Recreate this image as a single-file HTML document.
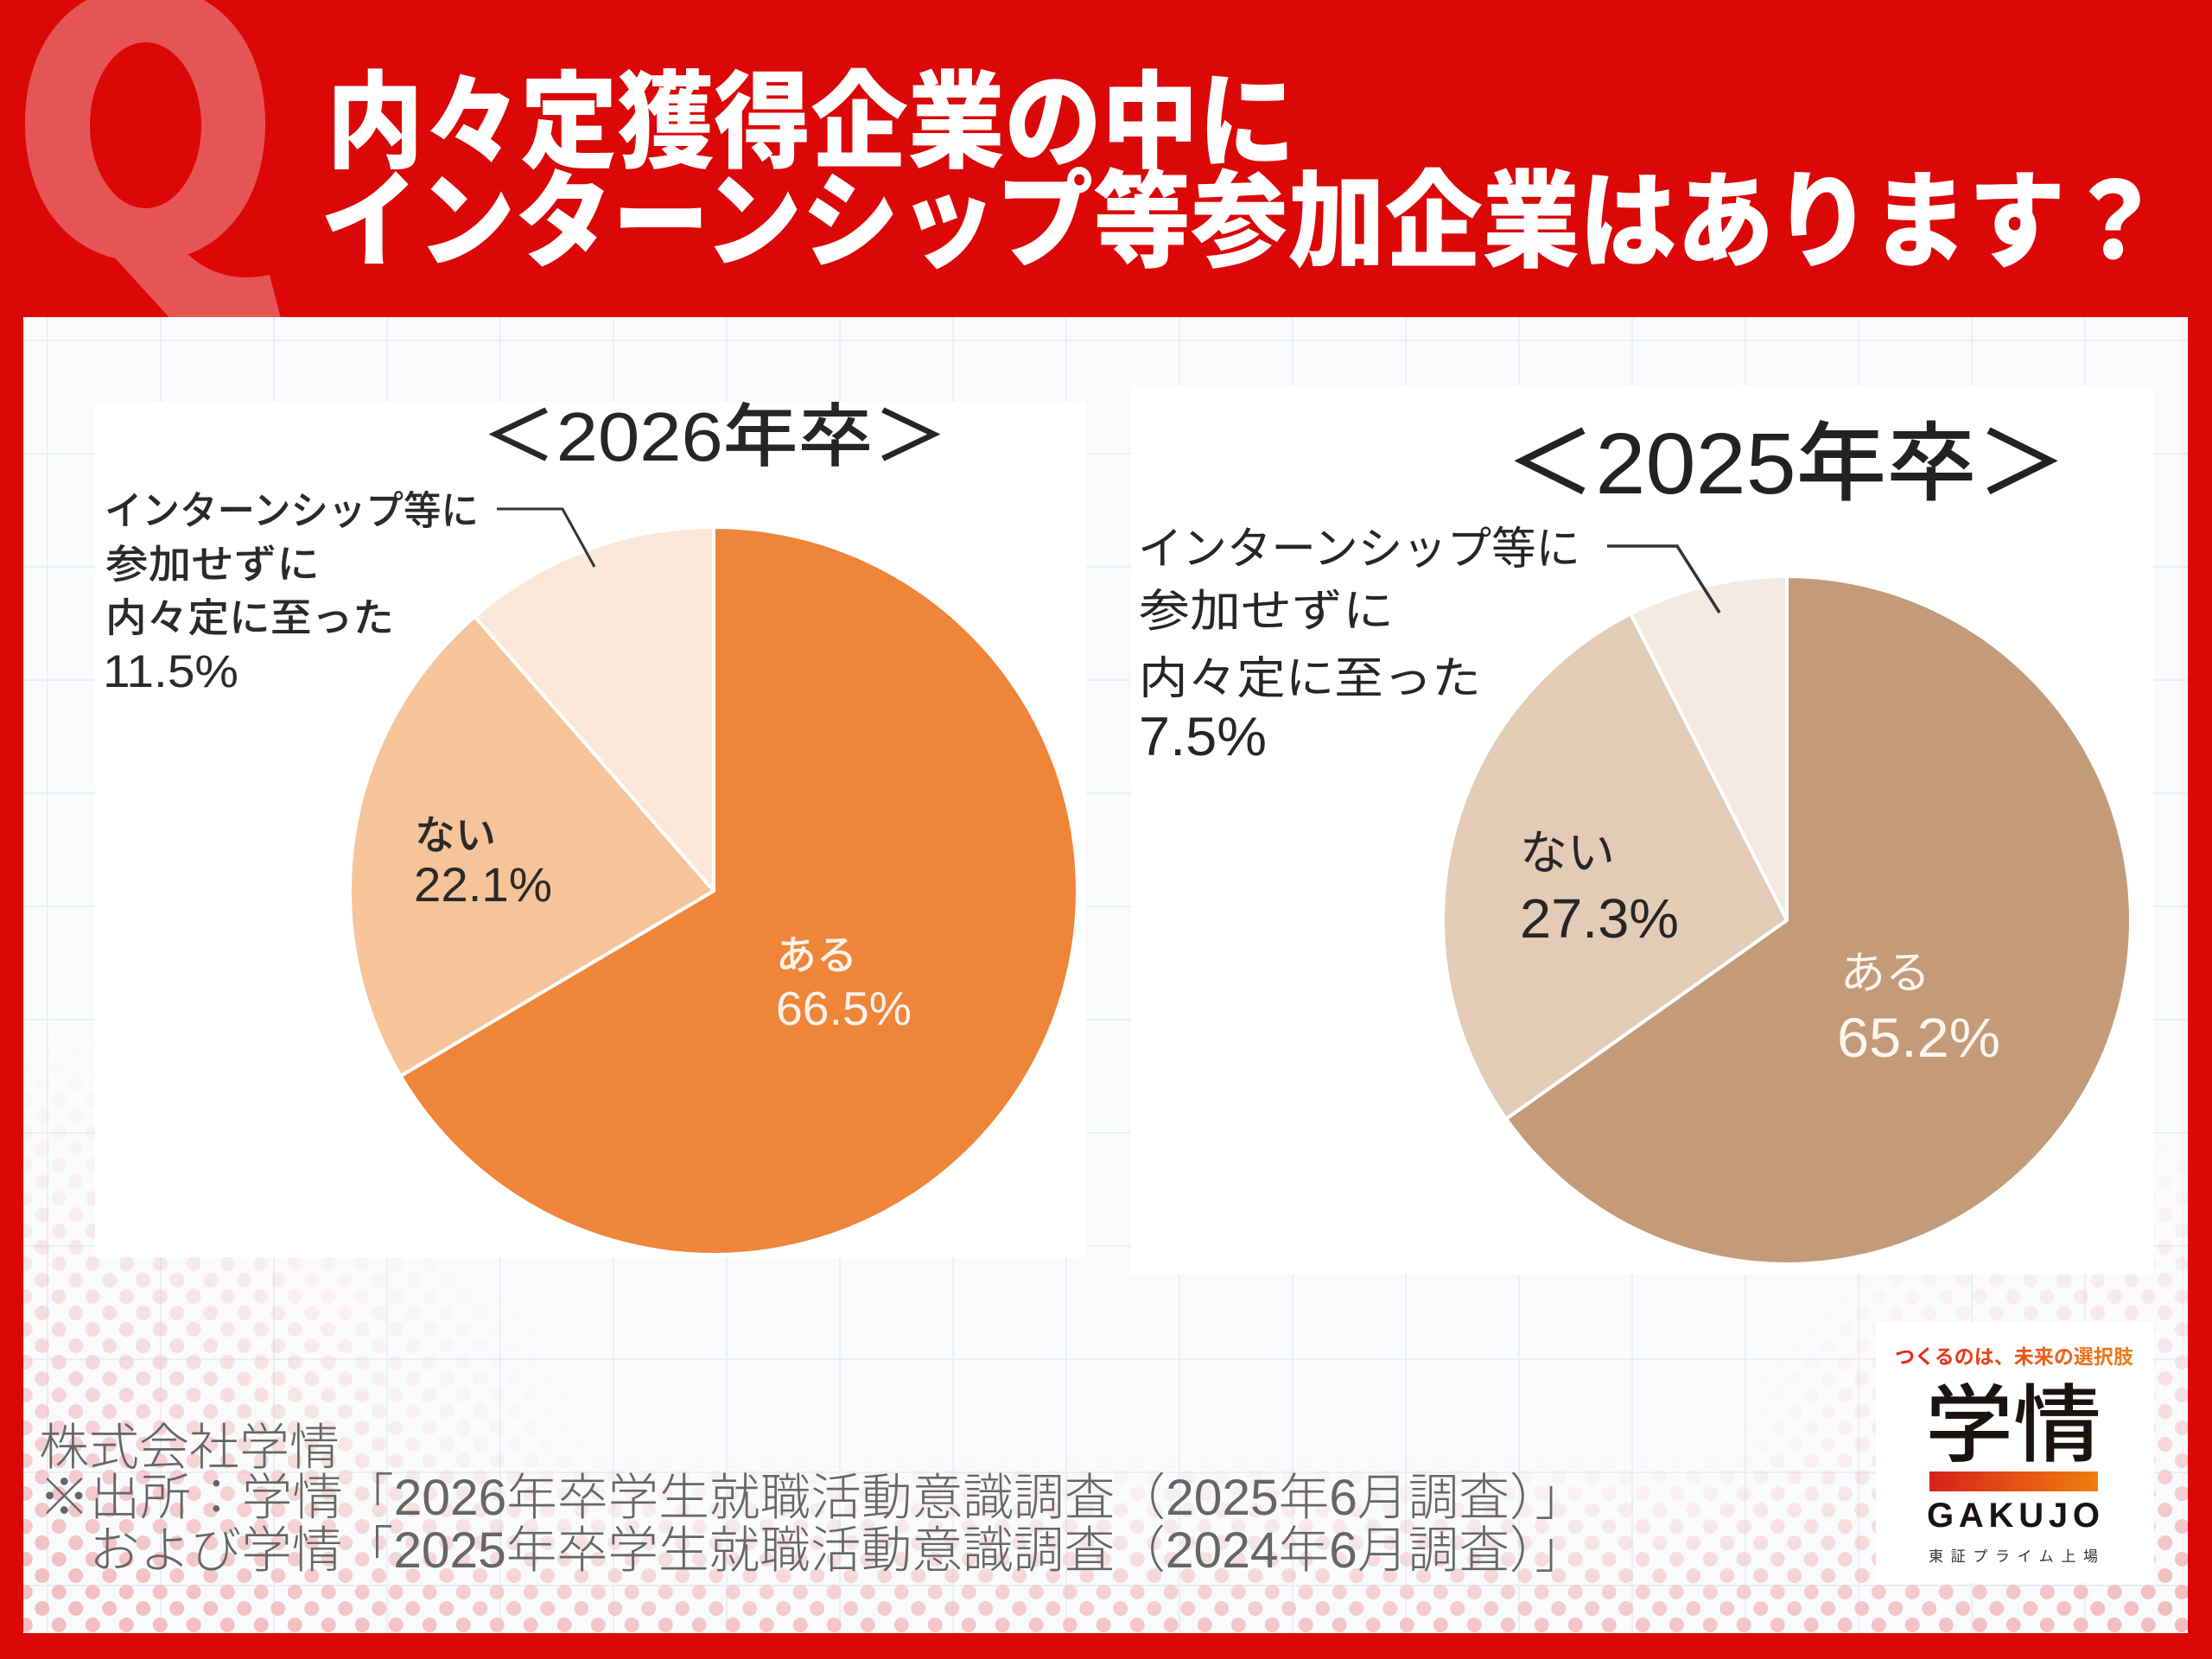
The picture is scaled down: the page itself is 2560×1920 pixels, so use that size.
<!DOCTYPE html>
<html>
<head>
<meta charset="utf-8">
<style>
html,body{margin:0;padding:0;width:2560px;height:1920px;overflow:hidden;background:#DC0808;}
svg{display:block;}
</style>
</head>
<body>
<svg width="2560" height="1920" viewBox="0 0 2560 1920" xmlns="http://www.w3.org/2000/svg" font-family="'Liberation Sans','Noto Sans CJK JP',sans-serif">
<defs>
  <pattern id="grid" x="54" y="393" width="131" height="131" patternUnits="userSpaceOnUse">
    <path d="M1,0 V131 M0,1 H131" stroke="#EAEEF4" stroke-width="2" fill="none"/>
  </pattern>
  <pattern id="dots" x="0" y="1890" width="39" height="38" patternUnits="userSpaceOnUse">
    <circle cx="9.75" cy="9.5" r="8.5" fill="#F2BCBE"/>
    <circle cx="29.25" cy="28.5" r="8.5" fill="#F2BCBE"/>
  </pattern>
  <radialGradient id="gBL" gradientUnits="userSpaceOnUse" cx="27" cy="1890" r="700">
    <stop offset="0" stop-color="#fff" stop-opacity="1"/>
    <stop offset="0.45" stop-color="#fff" stop-opacity="0.55"/>
    <stop offset="0.75" stop-color="#fff" stop-opacity="0.15"/>
    <stop offset="1" stop-color="#fff" stop-opacity="0"/>
  </radialGradient>
  <radialGradient id="gBR" gradientUnits="userSpaceOnUse" cx="2532" cy="1890" r="580">
    <stop offset="0" stop-color="#fff" stop-opacity="1"/>
    <stop offset="0.5" stop-color="#fff" stop-opacity="0.4"/>
    <stop offset="1" stop-color="#fff" stop-opacity="0"/>
  </radialGradient>
  <linearGradient id="gB" gradientUnits="userSpaceOnUse" x1="0" y1="1890" x2="0" y2="1680">
    <stop offset="0" stop-color="#fff" stop-opacity="0.9"/>
    <stop offset="0.5" stop-color="#fff" stop-opacity="0.35"/>
    <stop offset="1" stop-color="#fff" stop-opacity="0"/>
  </linearGradient>
  <mask id="dm" maskUnits="userSpaceOnUse" x="0" y="0" width="2560" height="1920">
    <rect x="0" y="0" width="2560" height="1920" fill="#000"/>
    <rect x="0" y="0" width="2560" height="1920" fill="url(#gB)"/>
    <rect x="0" y="0" width="2560" height="1920" fill="url(#gBL)"/>
    <rect x="0" y="0" width="2560" height="1920" fill="url(#gBR)"/>
  </mask>
  <linearGradient id="tg" gradientUnits="userSpaceOnUse" x1="2195" y1="0" x2="2465" y2="0">
    <stop offset="0" stop-color="#E1261C"/>
    <stop offset="1" stop-color="#EE7F1A"/>
  </linearGradient>
  <linearGradient id="bar" gradientUnits="userSpaceOnUse" x1="2233" y1="0" x2="2428" y2="0">
    <stop offset="0" stop-color="#D8211C"/>
    <stop offset="1" stop-color="#EF7F0E"/>
  </linearGradient>
</defs>

<!-- background red -->
<rect x="0" y="0" width="2560" height="1920" fill="#DC0808"/>

<!-- big Q -->
<path fill="#E65555" fill-rule="evenodd" d="M168,-17 C251,-17 307,47 307,143 C307,239 251,303 168,303 C85,303 29,239 29,143 C29,47 85,-17 168,-17 Z M168.5,49 C204,49 233,92 233,145 C233,198 204,241 168.5,241 C133,241 104,198 104,145 C104,92 133,49 168.5,49 Z"/>
<path fill="#E65555" d="M118,282 L200,372 L326,372 L312,318 C275,326 240,318 213,290 Z"/>

<!-- title -->
<text x="378" y="184" font-size="122" font-weight="900" fill="#fff" textLength="1121" lengthAdjust="spacingAndGlyphs">内々定獲得企業の中に</text>
<text x="371" y="299" font-size="122" font-weight="900" fill="#fff" textLength="2132" lengthAdjust="spacingAndGlyphs">インターンシップ等参加企業はあります？</text>

<!-- panel -->
<rect x="27" y="367" width="2505" height="1523" fill="#F9FAFC"/>
<rect x="27" y="367" width="2505" height="1523" fill="url(#grid)"/>
<rect x="27" y="367" width="2505" height="1523" fill="url(#dots)" mask="url(#dm)"/>

<!-- chart boxes -->
<rect x="110" y="465" width="1147" height="990" fill="#fff"/>
<rect x="1309" y="446" width="1183" height="1029" fill="#fff"/>

<!-- LEFT CHART -->
<text x="557" y="533" font-size="80" font-weight="500" fill="#262626" textLength="540" lengthAdjust="spacingAndGlyphs">＜2026年卒＞</text>
<g stroke="#fff" stroke-width="4" stroke-linejoin="round">
  <path d="M826,1031 L826,610 A421,421 0 1,1 463.6,1245.3 Z" fill="#EE8539"/>
  <path d="M826,1031 L463.6,1245.3 A421,421 0 0,1 549.5,713.5 Z" fill="#F6C498"/>
  <path d="M826,1031 L549.5,713.5 A421,421 0 0,1 826,610 Z" fill="#FCE8D9"/>
</g>
<polyline points="575,589 651,589 688,656" stroke="#333" stroke-width="3" fill="none"/>
<g fill="#2a2a2a" font-weight="500">
  <text x="121" y="607" font-size="46" textLength="433" lengthAdjust="spacingAndGlyphs">インターンシップ等に</text>
  <text x="122" y="669" font-size="46" textLength="248" lengthAdjust="spacingAndGlyphs">参加せずに</text>
  <text x="122" y="731" font-size="46" textLength="334" lengthAdjust="spacingAndGlyphs">内々定に至った</text>
  <text x="119" y="795" font-size="53" textLength="157" lengthAdjust="spacingAndGlyphs">11.5%</text>
  <text x="480" y="983" font-size="47">ない</text>
  <text x="479" y="1043" font-size="56" textLength="160" lengthAdjust="spacingAndGlyphs">22.1%</text>
</g>
<g fill="#FFF3EA" font-weight="500">
  <text x="898" y="1122" font-size="47">ある</text>
  <text x="898" y="1186" font-size="55" textLength="157" lengthAdjust="spacingAndGlyphs">66.5%</text>
</g>

<!-- RIGHT CHART -->
<text x="1742" y="571" font-size="100" font-weight="500" fill="#222" textLength="650" lengthAdjust="spacingAndGlyphs">＜2025年卒＞</text>
<g stroke="#fff" stroke-width="4" stroke-linejoin="round">
  <path d="M2068,1065 L2068,667 A398,398 0 1,1 1743.1,1294.9 Z" fill="#C49B79"/>
  <path d="M2068,1065 L1743.1,1294.9 A398,398 0 0,1 1887.3,710.4 Z" fill="#E3CBB6"/>
  <path d="M2068,1065 L1887.3,710.4 A398,398 0 0,1 2068,667 Z" fill="#F3EAE2"/>
</g>
<polyline points="1860,632 1941,632 1990,709" stroke="#333" stroke-width="3.5" fill="none"/>
<g fill="#262626">
  <text x="1317" y="653" font-size="52" textLength="512" lengthAdjust="spacingAndGlyphs">インターンシップ等に</text>
  <text x="1318" y="725" font-size="52" textLength="295" lengthAdjust="spacingAndGlyphs">参加せずに</text>
  <text x="1318" y="803" font-size="52" textLength="396" lengthAdjust="spacingAndGlyphs">内々定に至った</text>
  <text x="1318" y="874" font-size="63" textLength="148" lengthAdjust="spacingAndGlyphs">7.5%</text>
  <text x="1759" y="1006" font-size="55">ない</text>
  <text x="1759" y="1085" font-size="64" textLength="184" lengthAdjust="spacingAndGlyphs">27.3%</text>
</g>
<g fill="#FFF6EF">
  <text x="2130" y="1144" font-size="52">ある</text>
  <text x="2126" y="1223" font-size="64" textLength="189" lengthAdjust="spacingAndGlyphs">65.2%</text>
</g>

<!-- footer text -->
<g fill="#666" font-weight="300" font-size="58">
  <text x="45" y="1695">株式会社学情</text>
  <text x="45" y="1753" textLength="1790" lengthAdjust="spacingAndGlyphs">※出所：学情「2026年卒学生就職活動意識調査（2025年6月調査）」</text>
  <text x="103" y="1814" textLength="1732" lengthAdjust="spacingAndGlyphs">および学情「2025年卒学生就職活動意識調査（2024年6月調査）」</text>
</g>

<!-- logo -->
<rect x="2171" y="1530" width="322" height="302" fill="#fff"/>
<text x="2193" y="1578" font-size="23" font-weight="700" fill="url(#tg)" textLength="276" lengthAdjust="spacingAndGlyphs">つくるのは、未来の選択肢</text>
<text x="2228" y="1683" font-size="98" font-weight="500" fill="#1a1311" textLength="204" lengthAdjust="spacingAndGlyphs">学情</text>
<rect x="2233" y="1703" width="195" height="23" fill="url(#bar)"/>
<text x="2230" y="1767" font-size="40" font-weight="700" fill="#1a1311" textLength="200" lengthAdjust="spacing">GAKUJO</text>
<text x="2232" y="1807" font-size="17" fill="#333" textLength="196" lengthAdjust="spacing">東証プライム上場</text>
</svg>
</body>
</html>
